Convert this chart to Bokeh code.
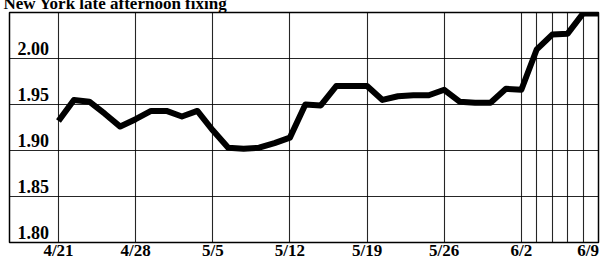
import numpy as np
from bokeh.plotting import figure
from bokeh.models import ColumnDataSource, FixedTicker, LabelSet, Range1d
from bokeh.core.properties import value
from bokeh.embed import file_html
from bokeh.resources import INLINE

title_text = "New York late afternoon fixing"

dates = ["1997-04-21", "1997-04-22", "1997-04-23", "1997-04-24", "1997-04-25",
         "1997-04-28", "1997-04-29", "1997-04-30", "1997-05-01", "1997-05-02",
         "1997-05-05", "1997-05-06", "1997-05-07", "1997-05-08", "1997-05-09",
         "1997-05-12", "1997-05-13", "1997-05-14", "1997-05-15", "1997-05-16",
         "1997-05-19", "1997-05-20", "1997-05-21", "1997-05-22", "1997-05-23",
         "1997-05-26", "1997-05-27", "1997-05-28", "1997-05-29", "1997-05-30",
         "1997-06-02", "1997-06-03", "1997-06-04", "1997-06-05", "1997-06-06",
         "1997-06-09"]
values = [1.932, 1.955, 1.953, 1.940, 1.926,
          1.934, 1.943, 1.943, 1.937, 1.943,
          1.922, 1.903, 1.902, 1.903, 1.908,
          1.914, 1.950, 1.949, 1.970, 1.970,
          1.970, 1.955, 1.959, 1.960, 1.960,
          1.966, 1.953, 1.952, 1.952, 1.967,
          1.966, 2.010, 2.026, 2.027, 2.049,
          2.049]

tick_dates = ["1997-04-21", "1997-04-28", "1997-05-05", "1997-05-12",
              "1997-05-19", "1997-05-26", "1997-06-02", "1997-06-09"]
tick_labels = ["4/21", "4/28", "5/5", "5/12", "5/19", "5/26", "6/2", "6/9\u2007"]
daily_grid_dates = ["1997-06-03", "1997-06-04", "1997-06-05", "1997-06-06"]

y_ticks = [1.80, 1.85, 1.90, 1.95, 2.00]
y_labels = ["1.80", "1.85", "1.90", "1.95", "2.00"]

start = dates[0]


def tday(d):
    return int(np.busday_count(start, d))


x = [tday(d) for d in dates]
tick_x = [tday(d) for d in tick_dates]
daily_x = [tday(d) for d in daily_grid_dates]

X_START = -3.175
p = figure(width=607, height=272, output_backend="svg", toolbar_location=None,
           x_range=Range1d(X_START, tick_x[-1]), y_range=Range1d(1.80, 2.05),
           y_axis_location=None,
           min_border_left=9, min_border_right=9, min_border_top=22, min_border_bottom=17)
p.styles = {"margin-top": "-10px"}
p.background_fill_color = "white"
p.border_fill_color = "white"
p.outline_line_color = "black"
p.outline_line_width = 1.5

# title (only its lower part shows, as in the reference)
p.title.text = title_text
p.title.text_font = "Liberation Serif"
p.title.text_font_style = "bold"
p.title.text_font_size = "17px"
p.title.text_color = "black"
p.title.align = "left"
p.title.offset = -6
p.title.standoff = 0

# x axis: weekly labels
ax = p.xaxis[0]
ax.ticker = FixedTicker(ticks=tick_x)
ax.major_label_overrides = {t: lab for t, lab in zip(tick_x, tick_labels)}
ax.axis_line_color = None
ax.major_tick_line_color = None
ax.minor_tick_line_color = None
ax.major_tick_out = 0
ax.major_tick_in = 0
ax.minor_tick_out = 0
ax.major_label_standoff = -2
ax.major_label_text_font = "Liberation Serif"
ax.major_label_text_font_style = "bold"
ax.major_label_text_font_size = "17px"
ax.major_label_text_color = "black"

# grids
p.xgrid.ticker = FixedTicker(ticks=tick_x + daily_x)
p.xgrid.grid_line_color = "black"
p.xgrid.grid_line_alpha = 0.85
p.xgrid.grid_line_width = 1.1
p.ygrid.ticker = FixedTicker(ticks=y_ticks[1:])
p.ygrid.grid_line_color = "black"
p.ygrid.grid_line_alpha = 0.85
p.ygrid.grid_line_width = 1.1

src = ColumnDataSource(dict(x=x, y=values))
p.line("x", "y", source=src, line_color="black", line_width=6, line_join="round")

ysrc = ColumnDataSource(dict(x=[X_START] * len(y_ticks), y=y_ticks, t=y_labels))
p.add_layout(LabelSet(x="x", y="y", text="t", source=ysrc, x_offset=8, y_offset=4,
                      text_font=value("Liberation Serif"), text_font_style="bold",
                      text_font_size="18px", text_color="black",
                      text_baseline="alphabetic", text_align="left"))

open("out.html", "w").write(file_html(p, INLINE))
